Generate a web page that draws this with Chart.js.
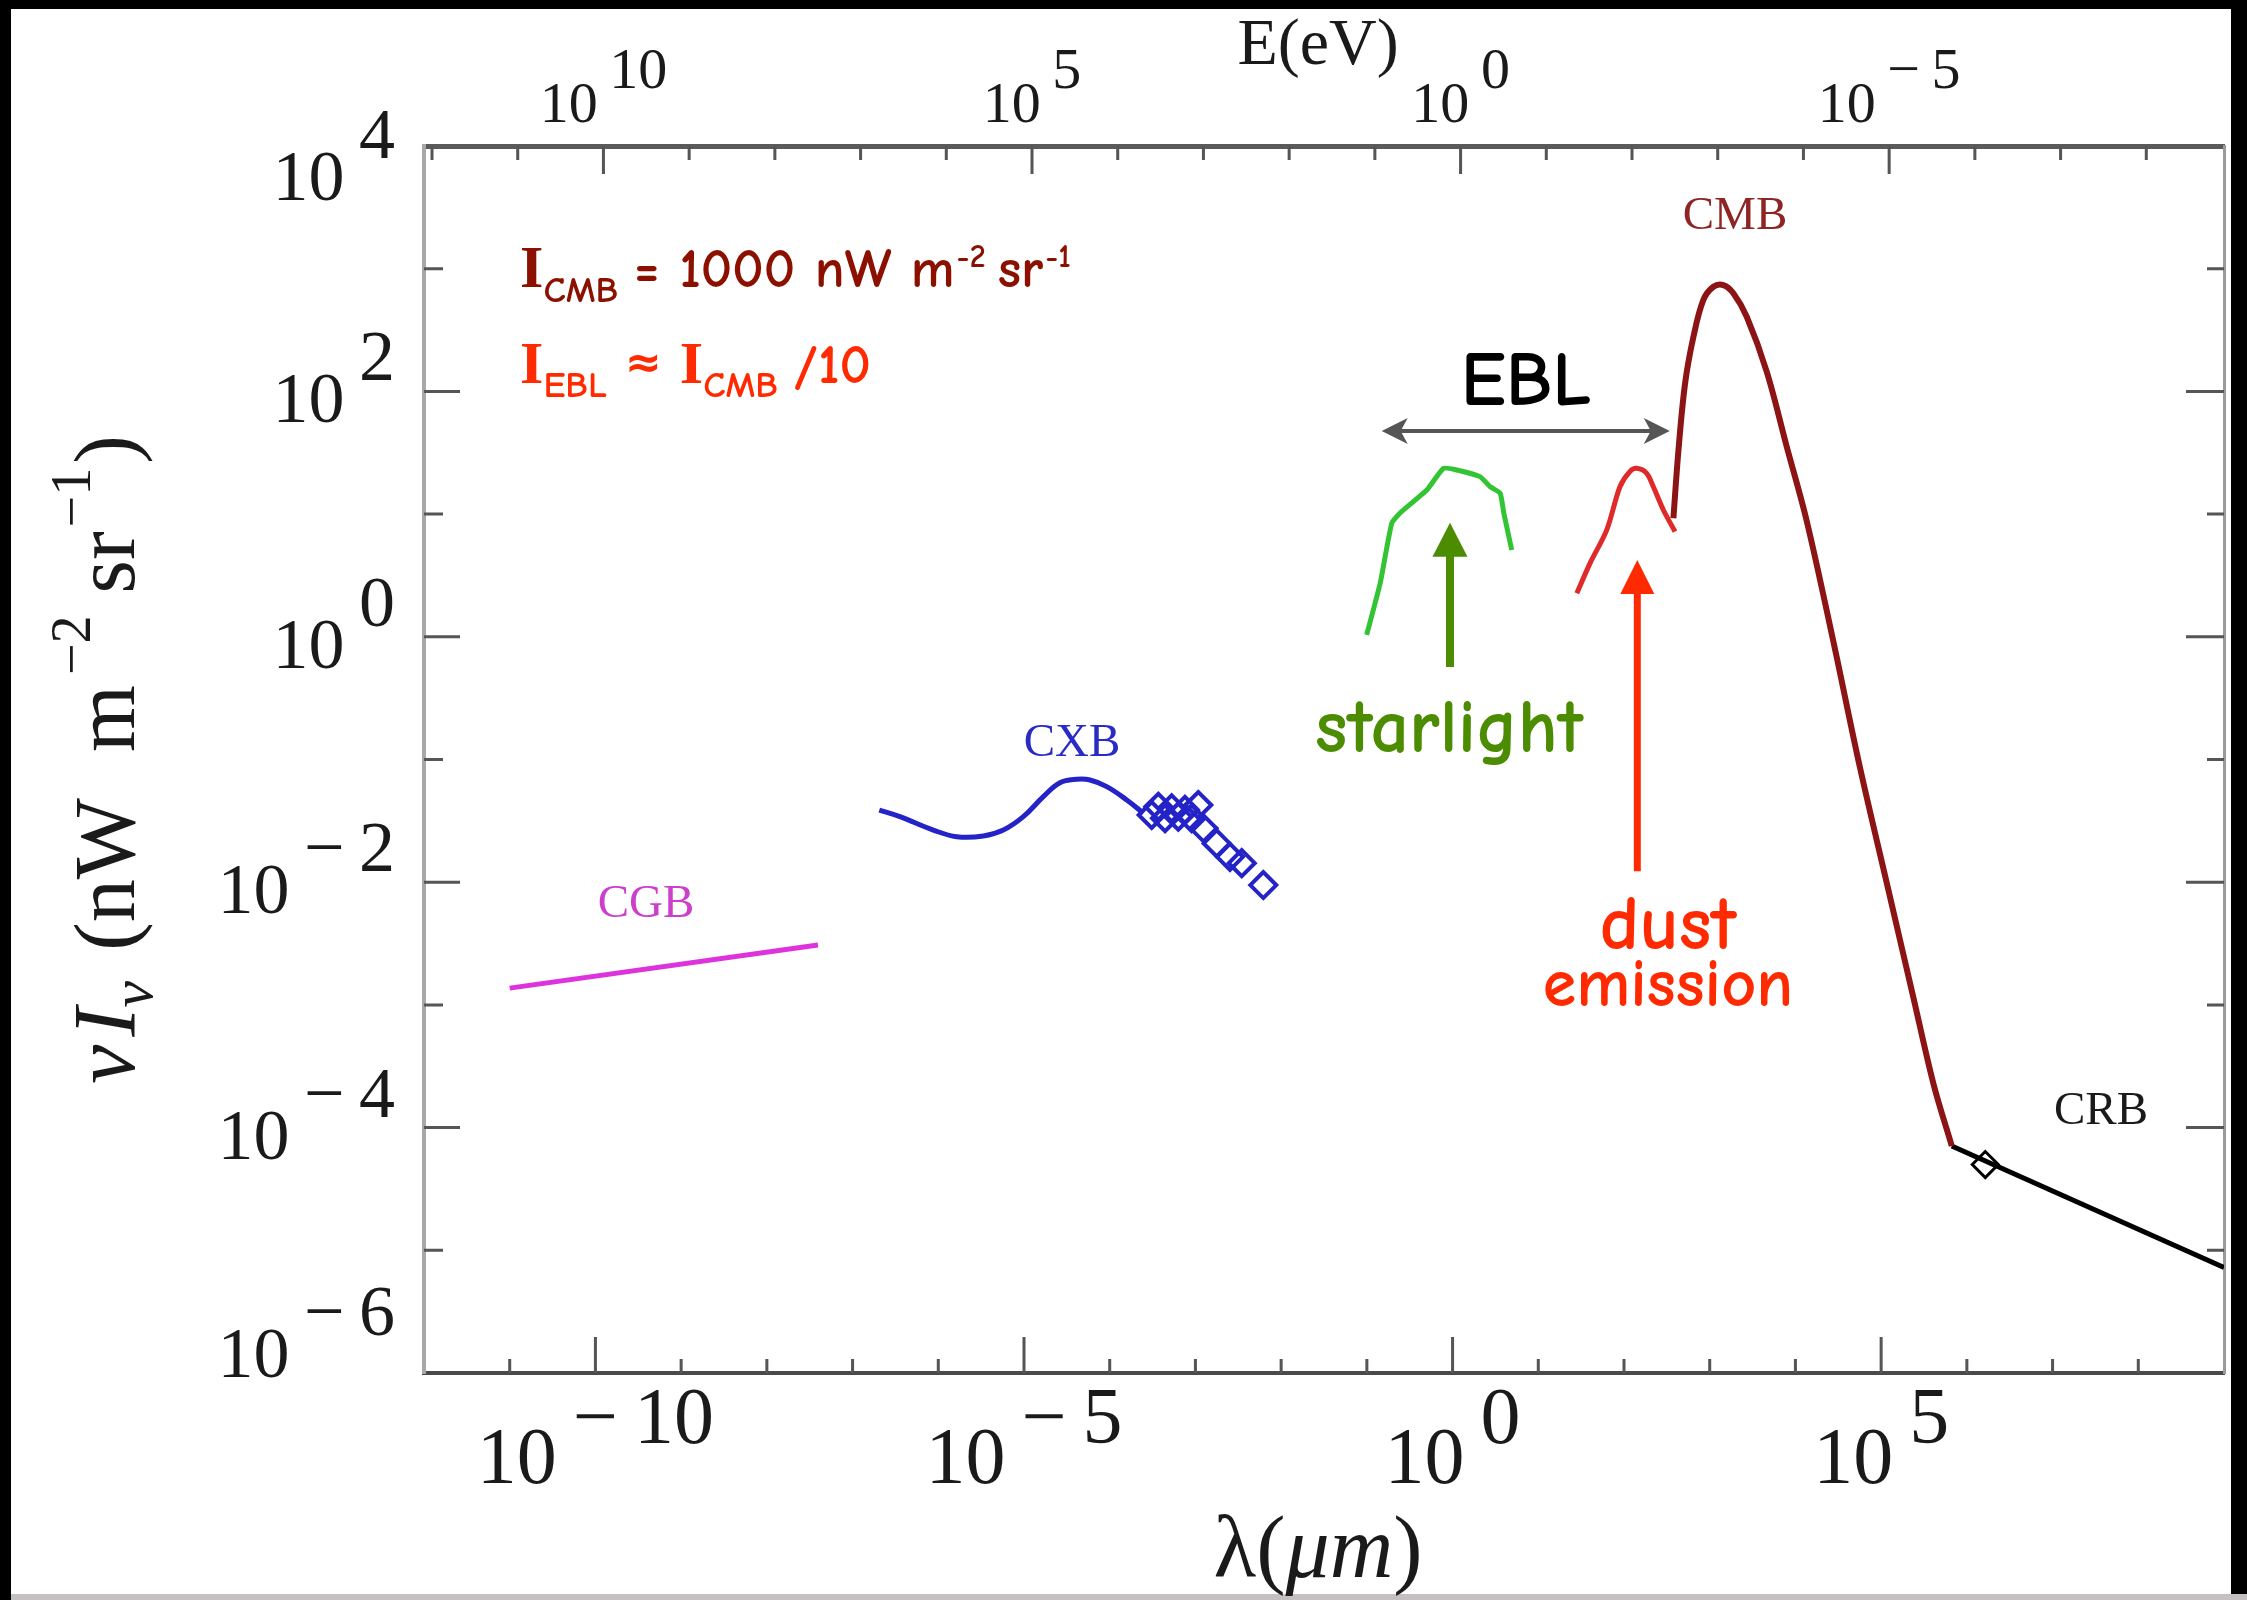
<!DOCTYPE html>
<html>
<head>
<meta charset="utf-8">
<title>Cosmic background radiation spectrum</title>
<script src="https://cdn.jsdelivr.net/npm/chart.js@4.4.1/dist/chart.umd.min.js"></script>
<style>
html,body{margin:0;padding:0;background:#000;width:2247px;height:1600px;overflow:hidden}
canvas{display:block}
</style>
</head>
<body>
<canvas id="c" width="2247" height="1600"></canvas>
<script>
// ---------- Data: wavelength (μm) and νIν (nW m^-2 sr^-1) ----------
const cgbLambda = [1.0e-11, 3.95e-8];
const cgbFlux   = [1.37e-3, 3.08e-3];

const cxbLambda = [2.05e-7, 3.57e-7, 8.75e-7, 1.64e-6, 3.36e-6, 5.74e-6, 9.82e-6, 1.68e-5, 2.63e-5, 4.12e-5, 5.89e-5, 9.23e-5, 1.58e-4, 2.47e-4];
const cxbFlux   = [3.87e-2, 3.42e-2, 2.66e-2, 2.35e-2, 2.38e-2, 2.66e-2, 3.42e-2, 4.98e-2, 6.47e-2, 6.90e-2, 6.81e-2, 6.01e-2, 4.68e-2, 3.65e-2];

const cxbObsLambda = [3.09e-4, 3.69e-4, 4.42e-4, 5.28e-4, 6.31e-4, 7.55e-4, 9.04e-4, 1.08e-3, 1.24e-3, 1.77e-3, 2.53e-3, 3.47e-3, 6.19e-3];
const cxbObsFlux   = [3.53e-2, 4.12e-2, 3.32e-2, 4.00e-2, 3.42e-2, 3.88e-2, 3.32e-2, 4.26e-2, 2.75e-2, 2.07e-2, 1.61e-2, 1.43e-2, 9.48e-3];

const starLambda = [0.0995, 0.143, 0.195, 0.244, 0.500, 0.782, 1.12, 2.09, 2.75, 3.59, 3.96, 4.90];
const starFlux   = [1.035, 2.73, 8.41, 10.2, 15.7, 23.6, 22.9, 20.2, 16.7, 14.8, 10.2, 5.09];

const dustLambda = [28.1, 40.1, 62.8, 89.7, 117, 141, 184, 220, 288, 394];
const dustFlux   = [2.26, 3.97, 7.41, 16.7, 22.2, 23.6, 21.5, 16.7, 10.8, 7.19];

const cmbLambda = [377, 432, 516, 646, 843, 1104, 1445, 1888, 2704, 4624, 7907, 13552, 27733, 56754, 116145, 237684, 407380, 666807];
const cmbFlux   = [9.25, 33.3, 116, 279, 556, 713, 736, 631, 406, 145, 35.6, 8.77, 0.912, 0.0853, 9.89e-3, 1.15e-3, 2.28e-4, 7.08e-5];

const crbLambda = [666807, 1.0e9];
const crbFlux   = [7.08e-5, 7.24e-6];
const crbObsLambda = [1.64e6];
const crbObsFlux   = [5.0e-5];

// ---------- Axes ----------
const lambdaMin = 1e-12, lambdaMax = 1e9;
const fluxMin = 1e-6, fluxMax = 1e4;
const hcEvMicron = 1.24;                       // E(eV) = 1.24 / λ(μm)
const lambdaTickExps = [-11,-10,-9,-8,-7,-6,-5,-4,-3,-2,-1,0,1,2,3,4,5,6,7,8];
const lambdaLabelExps = [-10, -5, 0, 5];
const energyTickExps = [-8,-7,-6,-5,-4,-3,-2,-1,0,1,2,3,4,5,6,7,8,9,10,11,12];
const energyLabelExps = [10, 5, 0, -5];
const fluxTickExps = [-5,-4,-3,-2,-1,0,1,2,3];
const fluxLabelExps = [-6, -4, -2, 0, 2, 4];

// ---------- Text annotations (positions in data units) ----------
const seriesLabels = [
  {text:'CGB', lambda:3.89e-10, flux:6.52e-3, color:'#cc3fcc'},
  {text:'CXB', lambda:3.63e-5,  flux:0.1337,  color:'#2a2ac4'},
  {text:'CMB', lambda:1972,     flux:2637,    color:'#8e2424'},
  {text:'CRB', lambda:3.67e7,   flux:1.34e-4, color:'#1a1a1a'}
];
const noteCMB = {lambda:1.32e-11, flux:710};
const noteEBL = {lambda:1.32e-11, flux:117};
const eblLabel = {lambda:7.19, flux:77.5};
const eblArrow = {lambdaFrom:0.149, lambdaTo:342, flux:47.5};
const starLabel = {lambda:0.908, flux:0.115};
const starArrow = {lambda:0.933, fluxTip:8.5, fluxTail:0.567};
const dustLabel = {lambda:326, flux1:2.86e-3, flux2:9.8e-4};
const dustArrow = {lambda:143, fluxTip:4.23, fluxTail:0.0123};

const SERIF = '"Liberation Serif", "Times New Roman", serif';
const HAND = '"Comic Sans MS", "Comic Neue", "Noto Sans", "DejaVu Sans", sans-serif';

const pts = (xs, ys) => xs.map((x, i) => ({x: x, y: ys[i]}));

function drawPower(ctx, exp, x, baseY, expY, size, align) {
  ctx.font = size + 'px ' + SERIF;
  const sign = exp < 0 ? '\u2212' : '';
  const digits = String(Math.abs(exp));
  const gap = size * 0.2;
  const wB = ctx.measureText('10').width;
  const wS = sign ? ctx.measureText(sign).width : 0;
  const wD = ctx.measureText(digits).width;
  const total = wB + gap + (sign ? wS + gap : 0) + wD;
  let x0 = align === 'center' ? x - total / 2 : x - total;
  ctx.fillText('10', x0, baseY); x0 += wB + gap;
  if (sign) { ctx.fillText(sign, x0, expY); x0 += wS + gap; }
  ctx.fillText(digits, x0, expY);
}

function drawRich(ctx, segs, x, y, align) {
  let total = 0;
  const ws = segs.map(s => { ctx.font = s.font; const w = ctx.measureText(s.t).width; total += w + (s.gap || 0); return w; });
  let cx = align === 'center' ? x - total / 2 : (align === 'right' ? x - total : x);
  segs.forEach((s, i) => {
    ctx.font = s.font;
    if (s.color) ctx.fillStyle = s.color;
    ctx.fillText(s.t, cx, y + (s.dy || 0));
    cx += ws[i] + (s.gap || 0);
  });
}

function head(ctx, tx, ty, dx, dy, len, half, notch) {
  const bx = tx - dx * len, by = ty - dy * len;
  ctx.beginPath();
  ctx.moveTo(tx, ty);
  ctx.lineTo(bx - dy * half, by + dx * half);
  ctx.lineTo(tx - dx * (len - notch), ty - dy * (len - notch));
  ctx.lineTo(bx + dy * half, by - dx * half);
  ctx.closePath();
  ctx.fill();
}

const decor = {
  id: 'decor',
  beforeDraw(chart) {
    const ctx = chart.ctx;
    ctx.save();
    ctx.fillStyle = '#000'; ctx.fillRect(0, 0, chart.width, chart.height);
    ctx.fillStyle = '#fff'; ctx.fillRect(11, 9, 2220, 1585);
    ctx.fillStyle = '#c4c0c0'; ctx.fillRect(11, 1594, 2236, 6);
    ctx.restore();
  },
  beforeDatasetsDraw(chart) {
    const ctx = chart.ctx, a = chart.chartArea;
    const sx = chart.scales.x, sE = chart.scales.xE, sy = chart.scales.y;
    ctx.save();
    ctx.strokeStyle = '#555'; ctx.lineWidth = 3; ctx.beginPath();
    lambdaTickExps.forEach(e => { const x = sx.getPixelForValue(Math.pow(10, e)); const L = e % 5 === 0 ? 36 : 14; ctx.moveTo(x, a.bottom); ctx.lineTo(x, a.bottom - L); });
    energyTickExps.forEach(e => { const x = sE.getPixelForValue(Math.pow(10, e)); const L = e % 5 === 0 ? 28 : 14; ctx.moveTo(x, a.top); ctx.lineTo(x, a.top + L); });
    fluxTickExps.forEach(e => {
      const y = sy.getPixelForValue(Math.pow(10, e)); const even = e % 2 === 0;
      ctx.moveTo(a.left, y); ctx.lineTo(a.left + (even ? 36 : 19), y);
      ctx.moveTo(a.right, y); ctx.lineTo(a.right - (even ? 38 : 17), y);
    });
    ctx.stroke();
    ctx.restore();
  },
  afterDraw(chart) {
    const ctx = chart.ctx, a = chart.chartArea;
    const sx = chart.scales.x, sE = chart.scales.xE, sy = chart.scales.y;
    const px = v => sx.getPixelForValue(v), py = v => sy.getPixelForValue(v);
    ctx.save();
    ctx.fillStyle = '#1a1a1a'; ctx.textBaseline = 'alphabetic';
    // tick labels
    lambdaLabelExps.forEach(e => drawPower(ctx, e, px(Math.pow(10, e)), a.bottom + 110, a.bottom + 70, 80, 'center'));
    energyLabelExps.forEach(e => drawPower(ctx, e, sE.getPixelForValue(Math.pow(10, e)), a.top - 24, a.top - 58, 58, 'center'));
    fluxLabelExps.forEach(e => {
      const t = py(Math.pow(10, e));
      const base = Math.min(Math.max(t + 31, a.top + 54), a.bottom + 4);
      drawPower(ctx, e, a.left - 29, base, base - 42, 72, 'right');
    });
    // axis titles
    drawRich(ctx, [{t:'E(eV)', font:'66px ' + SERIF}], (a.left + a.right) / 2 - 6, a.top - 82, 'center');
    drawRich(ctx, [
      {t:'\u03bb(', font:'88px ' + SERIF},
      {t:'\u03bcm', font:'italic 88px ' + SERIF},
      {t:')', font:'88px ' + SERIF}
    ], (a.left + a.right) / 2 - 6, a.bottom + 204, 'center');
    ctx.save();
    ctx.translate(a.left - 290, (a.top + a.bottom) / 2);
    ctx.rotate(-Math.PI / 2);
    drawRich(ctx, [
      {t:'\u03bd', font:'italic 88px ' + SERIF, gap:8},
      {t:'I', font:'italic 88px ' + SERIF},
      {t:'\u03bd', font:'italic 60px ' + SERIF, dy:18, gap:30},
      {t:'(', font:'86px ' + SERIF},
      {t:'nW', font:'86px ' + SERIF, gap:46},
      {t:'m', font:'86px ' + SERIF, gap:10},
      {t:'\u22122', font:'56px ' + SERIF, dy:-44, gap:22},
      {t:'sr', font:'86px ' + SERIF, gap:4},
      {t:'\u22121', font:'56px ' + SERIF, dy:-44, gap:4},
      {t:')', font:'86px ' + SERIF}
    ], 0, 0, 'center');
    ctx.restore();

    // series labels
    ctx.textBaseline = 'middle';
    seriesLabels.forEach(l => { ctx.fillStyle = l.color; ctx.font = '47px ' + SERIF; ctx.textAlign = 'center'; ctx.fillText(l.text, px(l.lambda), py(l.flux)); });
    ctx.textAlign = 'left'; ctx.textBaseline = 'alphabetic';

    // intensity notes
    ctx.fillStyle = '#8b1000';
    drawRich(ctx, [
      {t:'I', font:'bold 60px ' + SERIF},
      {t:'CMB', font:'bold 37px ' + HAND, dy:15, gap:16},
      {t:'= 1000 nW m', font:'bold 55px ' + HAND, gap:2},
      {t:'-2', font:'bold 32px ' + HAND, dy:-20, gap:12},
      {t:'sr', font:'bold 55px ' + HAND, gap:2},
      {t:'-1', font:'bold 32px ' + HAND, dy:-20}
    ], px(noteCMB.lambda), py(noteCMB.flux), 'left');
    ctx.fillStyle = '#ff2a00';
    drawRich(ctx, [
      {t:'I', font:'bold 60px ' + SERIF},
      {t:'EBL', font:'bold 37px ' + HAND, dy:14, gap:18},
      {t:'\u2248', font:'bold 44px ' + HAND, dy:-6, gap:18},
      {t:'I', font:'bold 60px ' + SERIF},
      {t:'CMB', font:'bold 37px ' + HAND, dy:14, gap:16},
      {t:'/10', font:'bold 55px ' + HAND}
    ], px(noteEBL.lambda), py(noteEBL.flux), 'left');

    // EBL double arrow
    const ex1 = px(eblArrow.lambdaFrom), ex2 = px(eblArrow.lambdaTo), ey = py(eblArrow.flux);
    ctx.strokeStyle = '#555'; ctx.fillStyle = '#555'; ctx.lineWidth = 4;
    ctx.beginPath(); ctx.moveTo(ex1 + 15, ey); ctx.lineTo(ex2 - 15, ey); ctx.stroke();
    head(ctx, ex1, ey, -1, 0, 26, 13, 7);
    head(ctx, ex2, ey, 1, 0, 26, 13, 7);
    ctx.fillStyle = '#000';
    drawRich(ctx, [{t:'EBL', font:'bold 76px ' + HAND}], px(eblLabel.lambda), py(eblLabel.flux), 'center');

    // starlight arrow + label
    const sxp = px(starArrow.lambda), sTip = py(starArrow.fluxTip), sTail = py(starArrow.fluxTail);
    ctx.strokeStyle = '#4b8c00'; ctx.fillStyle = '#4b8c00'; ctx.lineWidth = 8;
    ctx.beginPath(); ctx.moveTo(sxp, sTail); ctx.lineTo(sxp, sTip + 30); ctx.stroke();
    head(ctx, sxp, sTip, 0, -1, 34, 17.5, 0);
    drawRich(ctx, [{t:'starlight', font:'bold 76px ' + HAND}], px(starLabel.lambda), py(starLabel.flux), 'center');

    // dust arrow + label
    const dxp = px(dustArrow.lambda), dTip = py(dustArrow.fluxTip), dTail = py(dustArrow.fluxTail);
    ctx.strokeStyle = '#ff2a00'; ctx.fillStyle = '#ff2a00'; ctx.lineWidth = 7;
    ctx.beginPath(); ctx.moveTo(dxp, dTail); ctx.lineTo(dxp, dTip + 30); ctx.stroke();
    head(ctx, dxp, dTip, 0, -1, 34, 17, 0);
    drawRich(ctx, [{t:'dust', font:'bold 76px ' + HAND}], px(dustLabel.lambda), py(dustLabel.flux1), 'center');
    drawRich(ctx, [{t:'emission', font:'bold 68px ' + HAND}], px(dustLabel.lambda), py(dustLabel.flux2), 'center');
    ctx.restore();
  }
};

const axisCommon = {ticks:{display:false}, grid:{display:false, drawTicks:false}};

new Chart(document.getElementById('c'), {
  type: 'scatter',
  data: {
    datasets: [
      {label:'CGB', data:pts(cgbLambda, cgbFlux), showLine:true, borderColor:'#dd33dd', borderWidth:5, pointRadius:0},
      {label:'CXB', data:pts(cxbLambda, cxbFlux), showLine:true, borderColor:'#2323c8', borderWidth:5, pointRadius:0, tension:0.4},
      {label:'CXB data', data:pts(cxbObsLambda, cxbObsFlux), showLine:false, pointStyle:'rectRot', pointRadius:13, pointBorderWidth:4, pointBorderColor:'#2323c8', pointBackgroundColor:'rgba(0,0,0,0)'},
      {label:'starlight', data:pts(starLambda, starFlux), showLine:true, borderColor:'#33c433', borderWidth:5, pointRadius:0, tension:0.15},
      {label:'dust', data:pts(dustLambda, dustFlux), showLine:true, borderColor:'#e02a2a', borderWidth:5, pointRadius:0, tension:0.3},
      {label:'CMB', data:pts(cmbLambda, cmbFlux), showLine:true, borderColor:'#8c1414', borderWidth:6, pointRadius:0, tension:0.35},
      {label:'CRB', data:pts(crbLambda, crbFlux), showLine:true, borderColor:'#000', borderWidth:5, pointRadius:0},
      {label:'CRB data', data:pts(crbObsLambda, crbObsFlux), showLine:false, pointStyle:'rectRot', pointRadius:13, pointBorderWidth:3, pointBorderColor:'#000', pointBackgroundColor:'rgba(0,0,0,0)'}
    ]
  },
  options: {
    responsive: false, animation: false, devicePixelRatio: 1, events: [],
    layout: {padding: {left: 424, right: 23, top: 146, bottom: 227}},
    plugins: {legend: {display: false}, tooltip: {enabled: false}},
    scales: {
      x:  Object.assign({type:'logarithmic', position:'bottom', min:lambdaMin, max:lambdaMax, border:{display:true, color:'#4a4a4a', width:4}}, axisCommon),
      xE: Object.assign({type:'logarithmic', position:'top', reverse:true, min:hcEvMicron / lambdaMax, max:hcEvMicron / lambdaMin, border:{display:true, color:'#5a5a5a', width:5}}, axisCommon),
      y:  Object.assign({type:'logarithmic', position:'left', min:fluxMin, max:fluxMax, border:{display:true, color:'#a8a8a8', width:4}}, axisCommon),
      yR: Object.assign({type:'logarithmic', position:'right', min:fluxMin, max:fluxMax, border:{display:true, color:'#9a9a9a', width:3}}, axisCommon)
    }
  },
  plugins: [decor]
});
</script>
</body>
</html>
